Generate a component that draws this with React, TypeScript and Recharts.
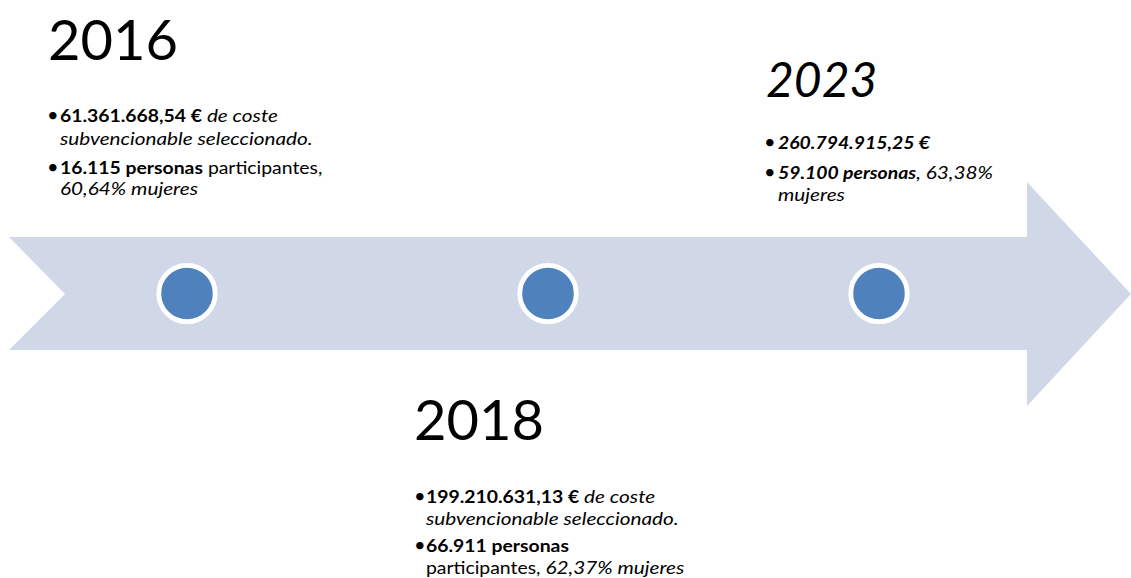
import React from 'react';
import { ComposedChart, XAxis, YAxis, Scatter, ReferenceArea } from 'recharts';

// ---- data ----
const years = ['2016', '2018', '2023'];
const costs = ['61.361.668,54 €', '199.210.631,13 €', '260.794.915,25 €'];
const persons = ['16.115', '66.911', '59.100'];
const womenPct = ['60,64%', '62,37%', '63,38%'];

// ---- layout (positions / styles, not data) ----
const W = 1131;
const H = 578;
const FONT = 'Lato, "Liberation Sans", sans-serif';
const ARROW_COLOR = '#D0D8E8';
const DOT_COLOR = '#4F81BD';
const markerX = [187, 548, 879];
const markerY = 293.5;
const arrowBox = { x1: 9, x2: 1131, y1: 182, y2: 406 };
const arrowGeom = { bodyTop: 237, bodyBottom: 350, notchX: 65, headX: 1027 };
const TEXT_SIZE = 17;
const ITALIC_SIZE = 18.2;
const TEXT_SX = 1.14;

type Seg = { t: string; b?: boolean; i?: boolean };
type Line = Seg[];

const blockLayout = [
  { yearX: 48, yearY: 60, yearSize: 56, yearItalic: false, bulletX: 47, textX: 60, lineY: [122, 144.5, 174, 195] },
  { yearX: 414, yearY: 440, yearSize: 56, yearItalic: false, bulletX: 414, textX: 426, lineY: [503, 525, 552, 574] },
  { yearX: 766, yearY: 97, yearSize: 48, yearItalic: true, bulletX: 764, textX: 778, lineY: [148.5, 179, 201] },
];

const buildLines = (i: number): { lines: Line[]; bullets: number[] } => {
  if (i === 0) {
    return {
      lines: [
        [{ t: costs[i], b: true }, { t: ' de coste', i: true }],
        [{ t: 'subvencionable seleccionado.', i: true }],
        [{ t: persons[i] + ' personas', b: true }, { t: ' participantes,' }],
        [{ t: womenPct[i] + ' mujeres', i: true }],
      ],
      bullets: [0, 2],
    };
  }
  if (i === 1) {
    return {
      lines: [
        [{ t: costs[i], b: true }, { t: ' de coste', i: true }],
        [{ t: 'subvencionable seleccionado.', i: true }],
        [{ t: persons[i] + ' personas', b: true }],
        [{ t: 'participantes, ' }, { t: womenPct[i] + ' mujeres', i: true }],
      ],
      bullets: [0, 2],
    };
  }
  return {
    lines: [
      [{ t: costs[i], b: true, i: true }],
      [{ t: persons[i] + ' personas', b: true, i: true }, { t: ', ' + womenPct[i], i: true }],
      [{ t: 'mujeres', i: true }],
    ],
    bullets: [0, 1],
  };
};

const points = years.map((year, i) => ({ year, idx: i, x: markerX[i], y: markerY }));

const ArrowShape = (props: any) => {
  const { x, y, width, height } = props;
  if (x == null || y == null) return null;
  const sx = width / (arrowBox.x2 - arrowBox.x1);
  const sy = height / (arrowBox.y2 - arrowBox.y1);
  const px = (v: number) => x + (v - arrowBox.x1) * sx;
  const py = (v: number) => y + (v - arrowBox.y1) * sy;
  const mid = y + height / 2;
  const pts = [
    [x, py(arrowGeom.bodyTop)],
    [px(arrowGeom.headX), py(arrowGeom.bodyTop)],
    [px(arrowGeom.headX), y],
    [x + width, mid],
    [px(arrowGeom.headX), y + height],
    [px(arrowGeom.headX), py(arrowGeom.bodyBottom)],
    [x, py(arrowGeom.bodyBottom)],
    [px(arrowGeom.notchX), mid],
  ];
  return <polygon points={pts.map((p) => p.join(',')).join(' ')} fill={ARROW_COLOR} />;
};

const MarkerShape = (props: any) => {
  const { cx, cy, payload } = props;
  const i = payload.idx;
  const L = blockLayout[i];
  const dx = cx - markerX[i];
  const dy = cy - markerY;
  const { lines, bullets } = buildLines(i);
  return (
    <g>
      <circle cx={cx} cy={cy} r={28.2} fill={DOT_COLOR} stroke="#FFFFFF" strokeWidth={4.8} />
      <text
        x={L.yearX + dx}
        y={L.yearY + dy}
        fontFamily={FONT}
        fontSize={L.yearSize}
        fontStyle={L.yearItalic ? 'italic' : 'normal'}
        fill="#000"
      >
        {payload.year}
      </text>
      {lines.map((line, li) => (
        <g key={li}>
          {bullets.includes(li) && (
            <text x={L.bulletX + dx} y={L.lineY[li] + dy} fontFamily={FONT} fontSize={20} fill="#000">
              •
            </text>
          )}
          <text
            transform={`translate(${L.textX + dx},${L.lineY[li] + dy}) scale(${TEXT_SX},1)`}
            x={0}
            y={0}
            fontFamily={FONT}
            fontSize={TEXT_SIZE}
            fill="#000"
          >
            {line.map((s, si) => (
              <tspan
                key={si}
                fontWeight={s.b ? 'bold' : 'normal'}
                fontStyle={s.i ? 'italic' : 'normal'}
                fontSize={s.i && !s.b ? ITALIC_SIZE : TEXT_SIZE}
              >
                {s.t}
              </tspan>
            ))}
          </text>
        </g>
      ))}
    </g>
  );
};

export default function App() {
  return (
    <div style={{ width: W, height: H, background: '#fff' }}>
      <style>{'body{margin:0;overflow:hidden;background:#fff}'}</style>
      <ComposedChart width={W} height={H} data={points} margin={{ top: 0, right: 0, bottom: 0, left: 0 }}>
        <XAxis type="number" dataKey="x" domain={[0, W]} hide allowDataOverflow />
        <YAxis type="number" dataKey="y" domain={[0, H]} reversed hide allowDataOverflow />
        <ReferenceArea
          x1={arrowBox.x1}
          x2={arrowBox.x2}
          y1={arrowBox.y1}
          y2={arrowBox.y2}
          shape={ArrowShape}
          ifOverflow="visible"
        />
        <Scatter data={points} dataKey="y" shape={MarkerShape} isAnimationActive={false} />
      </ComposedChart>
    </div>
  );
}
